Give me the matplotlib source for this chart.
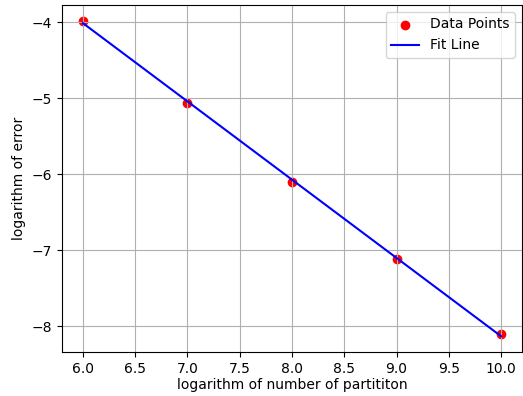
import numpy as np
import matplotlib
matplotlib.use("Agg")
import matplotlib.pyplot as plt

log_n = [6.0, 7.0, 8.0, 9.0, 10.0]
log_err = [-3.98, -5.06, -6.10, -7.11, -8.105]

def main():
	x = np.array(log_n)
	y = np.array(log_err)
	slope, intercept = np.polyfit(x, y, 1)

	fig = plt.figure(figsize=(5.23, 3.96), dpi=100)
	ax = fig.add_axes([62/523, 44/396, 460/523, 347/396])
	ax.scatter(x, y, color='red', label='Data Points')
	ax.plot(x, slope*x + intercept, color='blue', label='Fit Line')
	ax.set_xlabel('logarithm of number of partititon', labelpad=2)
	ax.set_ylabel('logarithm of error')
	ax.grid(True)
	ax.legend()
	fig.savefig('out.png', dpi=100)

if __name__ == "__main__":
	main()
